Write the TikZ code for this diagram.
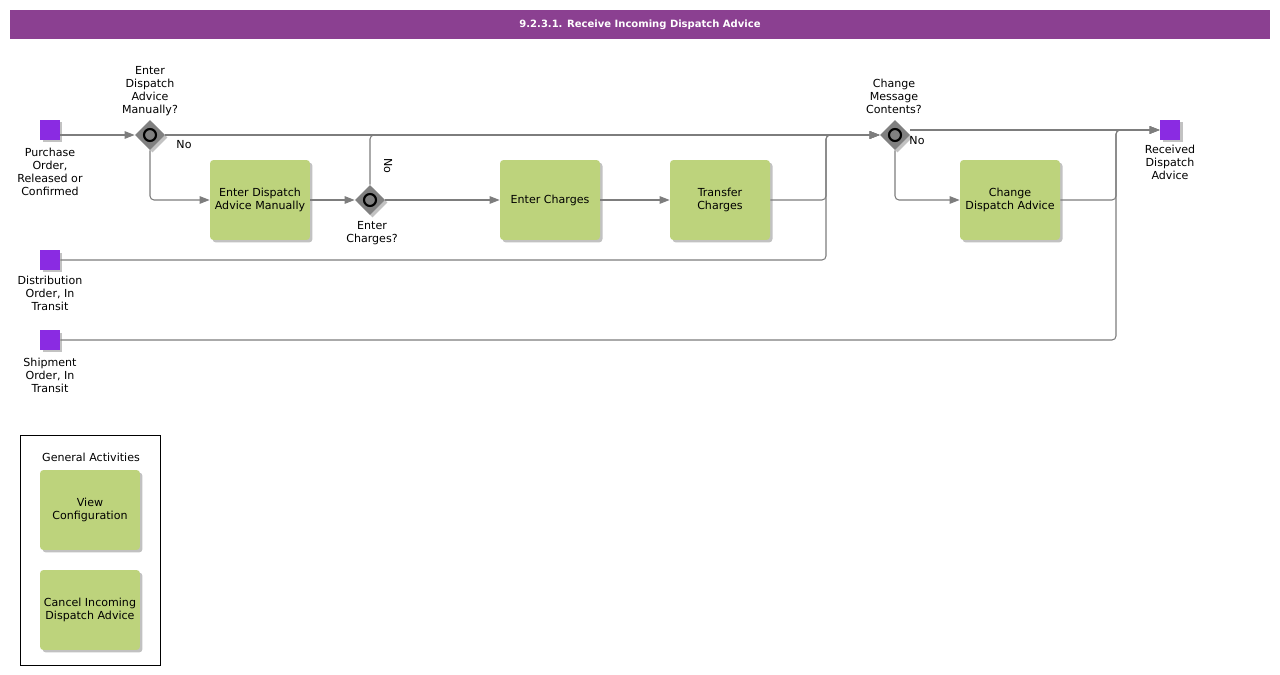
\documentclass[tikz,border=0pt]{standalone}
\usepackage{fontspec}
\setmainfont{DejaVu Sans}
\usetikzlibrary{shapes.geometric,arrows.meta,shadows}
\definecolor{titlebar}{RGB}{139,64,145}
\definecolor{eventpurple}{RGB}{138,43,226}
\definecolor{taskgreen}{RGB}{189,211,124}
\definecolor{gwgray}{RGB}{128,128,128}
\definecolor{flowgray}{RGB}{125,125,125}

\begin{document}
\begin{tikzpicture}[
  x=0.02cm, y=-0.02cm,
  every node/.style={font=\fontsize{6.3}{7.4}\selectfont},
  softshadow/.style={drop shadow={shadow xshift=0.05cm, shadow yshift=-0.05cm, fill=black!40, opacity=0.6}},
  event/.style={rectangle, fill=eventpurple, minimum size=0.4cm, inner sep=0pt, softshadow},
  task/.style={rectangle, rounded corners=0.07cm, fill=taskgreen, minimum width=2cm, minimum height=1.6cm, align=center, inner sep=1pt, softshadow},
  gateway/.style={diamond, fill=gwgray, minimum size=0.6cm, inner sep=0pt, softshadow},
  gwring/.style={draw=black, line width=1.2pt, fill=gwgray},
  lbl/.style={align=center, inner sep=0pt},
  flow/.style={draw=flowgray, line width=0.6pt, rounded corners=0.08cm},
  arrow/.style={flow, -{Triangle[length=0.2cm, width=0.15cm]}}
]
\useasboundingbox (0,0) rectangle (1280,675);

% Title bar
\node[fill=titlebar, minimum width=25.2cm, minimum height=0.58cm, inner sep=0pt,
  text=white, font=\bfseries\fontsize{5.7}{7}\selectfont] (title) at (640,24.5)
  {9.2.3.1. Receive Incoming Dispatch Advice};

% Events
\node[event] (po) at (50,130) {};
\node[event] (dist) at (50,260) {};
\node[event] (ship) at (50,340) {};
\node[event] (rcv) at (1170,130) {};

\node[lbl, anchor=north] (poL) at (50,148) {Purchase\\Order,\\Released or\\Confirmed};
\node[lbl, anchor=north] (distL) at (50,276) {Distribution\\Order, In\\Transit};
\node[lbl, anchor=north] (shipL) at (50,358) {Shipment\\Order, In\\Transit};
\node[lbl, anchor=north] (rcvL) at (1170,145) {Received\\Dispatch\\Advice};

% Gateways
\node[gateway] (g1) at (150,135) {};
\node[gateway] (g2) at (370,200) {};
\node[gateway] (g3) at (895,135) {};
\foreach \g in {g1,g2,g3}
  \draw[gwring] (\g.center) circle[radius=0.12cm];

\node[lbl, anchor=south] (g1L) at (150,116) {Enter\\Dispatch\\Advice\\Manually?};
\node[lbl, anchor=north] (g2L) at (372,221) {Enter\\Charges?};
\node[lbl, anchor=south] (g3L) at (894,114) {Change\\Message\\Contents?};

% Tasks
\node[task] (edm) at (260,200) {Enter Dispatch\\Advice Manually};
\node[task] (ec) at (550,200) {Enter Charges};
\node[task] (tc) at (720,200) {Transfer\\Charges};
\node[task] (chg) at (1010,200) {Change\\Dispatch Advice};

% Junctions
\coordinate (jg) at (826,135);
\coordinate (jr) at (1116,130);

% Flows
\draw[arrow] (po.east |- g1.west) -- (g1.west);
\draw[arrow] (g1.east) -- (g3.west);
\node[lbl] (no1) at (184,145) {No};
\draw[arrow] (g1.south) |- (edm.west);
\draw[arrow] (edm.east) -- (g2.west);
\draw[arrow] (g2.north) |- (g3.west);
\node[lbl, rotate=-90] (no2) at (388,166) {No};
\draw[arrow] (g2.east) -- (ec.west);
\draw[arrow] (ec.east) -- (tc.west);
\draw[arrow] (tc.east) -| (jg) -- (g3.west);
\draw[arrow] (dist.east) -| (jg) -- (g3.west);
\draw[arrow] (g3.east |- rcv.west) -- (rcv.west);
\node[lbl] (no3) at (917,141) {No};
\draw[arrow] (g3.south) |- (chg.west);
\draw[arrow] (chg.east) -| (jr) -- (rcv.west);
\draw[arrow] (ship.east) -| (jr) -- (rcv.west);

% General activities
\node[draw=black, line width=0.5pt, fill=white, minimum width=2.8cm, minimum height=4.6cm, inner sep=0pt] (gabox) at (90,550) {};
\node[lbl] (gaL) at (91,457) {General Activities};
\node[task] (vc) at (90,510) {View\\Configuration};
\node[task] (cida) at (90,610) {Cancel Incoming\\Dispatch Advice};

\end{tikzpicture}
\end{document}
